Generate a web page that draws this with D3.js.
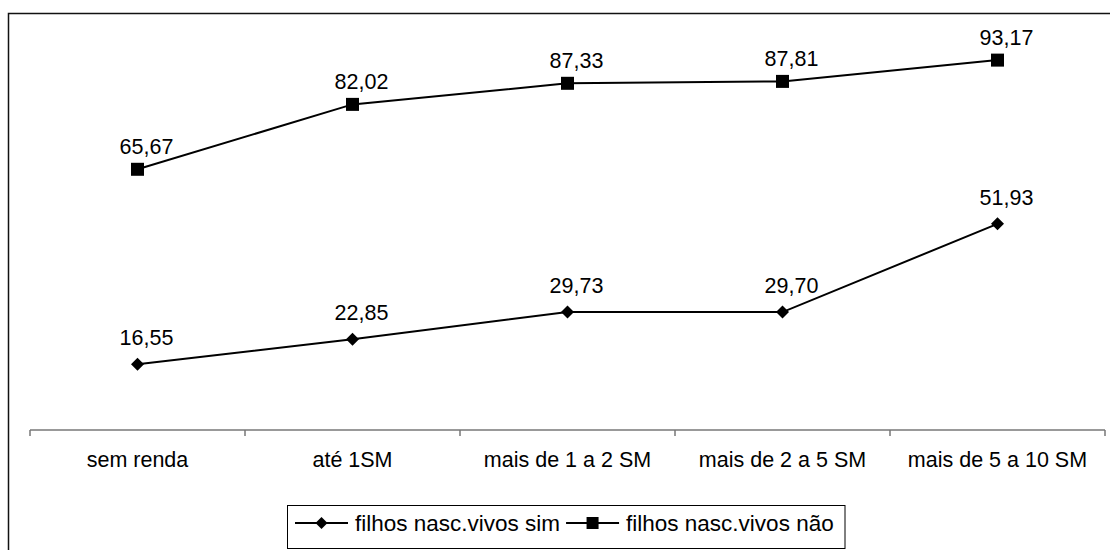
<!DOCTYPE html>
<html>
<head>
<meta charset="utf-8">
<script src="https://cdn.jsdelivr.net/npm/d3@7/dist/d3.min.js"></script>
<style>
  html, body { margin: 0; padding: 0; background: #fff; }
  svg { display: block; }
  text { font-family: "Liberation Sans", Arial, sans-serif; fill: #000; }
</style>
</head>
<body>
<svg id="chart" width="1110" height="550"></svg>
<script>
// Income bands and the share (%) for each group
const categories = ["sem renda", "até 1SM", "mais de 1 a 2 SM", "mais de 2 a 5 SM", "mais de 5 a 10 SM"];
const seriesNames = ["filhos nasc.vivos sim", "filhos nasc.vivos não"];
const valuesSim = [16.55, 22.85, 29.73, 29.70, 51.93];
const valuesNao = [65.67, 82.02, 87.33, 87.81, 93.17];
const markerTypes = ["diamond", "square"];

const fmt = v => v.toFixed(2).replace(".", ",");
const FONT = 21.5;
// gap between a marker and its value label, per marker shape
const labelGap = { diamond: 19, square: 15 };

const svg = d3.select("#chart");

// outer frame (right and bottom edges fall outside the page)
svg.append("rect")
  .attr("x", 8.5).attr("y", 13.5)
  .attr("width", 1120).attr("height", 560)
  .attr("fill", "none").attr("stroke", "#111").attr("stroke-width", 1.5);

const x = d3.scaleBand().domain(categories).range([30, 1105]).paddingInner(0).paddingOuter(0);
const y = d3.scaleLinear().domain([0, 100]).range([430, 33]);
const cx = c => x(c) + x.bandwidth() / 2;

// category axis
const axisG = svg.append("g").attr("transform", `translate(0,${y(0)})`);
axisG.append("line")
  .attr("x1", x.range()[0]).attr("x2", x.range()[1])
  .attr("stroke", "#777").attr("stroke-width", 1.5);
const tickPos = categories.map(c => x(c)).concat([x.range()[1]]);
axisG.selectAll("line.tick").data(tickPos).join("line")
  .attr("class", "tick")
  .attr("x1", d => d).attr("x2", d => d)
  .attr("y1", 0).attr("y2", 6)
  .attr("stroke", "#777").attr("stroke-width", 1.5);
axisG.selectAll("text.cat").data(categories).join("text")
  .attr("class", "cat")
  .attr("text-anchor", "middle")
  .attr("font-size", FONT)
  .attr("x", d => cx(d))
  .attr("y", 37)
  .text(d => d);

function marker(sel, type, size) {
  const h = size / 2;
  if (type === "square") {
    sel.append("rect")
      .attr("x", -h).attr("y", -h).attr("width", size).attr("height", size)
      .attr("fill", "#000");
  } else {
    sel.append("path")
      .attr("d", `M0,${-h}L${h},0L0,${h}L${-h},0Z`)
      .attr("fill", "#000");
  }
}

const series = [valuesSim, valuesNao];
const line = d3.line().x((d, i) => cx(categories[i])).y(d => y(d));

series.forEach((vals, si) => {
  const g = svg.append("g");
  g.append("path")
    .datum(vals)
    .attr("d", line)
    .attr("fill", "none").attr("stroke", "#000").attr("stroke-width", 2);
  vals.forEach((v, i) => {
    const m = g.append("g").attr("transform", `translate(${cx(categories[i])},${y(v)})`);
    marker(m, markerTypes[si], 13);
    g.append("text")
      .attr("text-anchor", "middle")
      .attr("font-size", FONT)
      .attr("x", cx(categories[i]) + 9)
      .attr("y", y(v) - labelGap[markerTypes[si]])
      .text(fmt(v));
  });
});

// legend
const legG = svg.append("g");
const legBox = legG.append("rect")
  .attr("fill", "#fff").attr("stroke", "#000").attr("stroke-width", 1);
const legY = 523;
const legFont = 22.5;
let cursor = 295;
seriesNames.forEach((name, si) => {
  legG.append("line")
    .attr("x1", cursor).attr("x2", cursor + 53)
    .attr("y1", legY).attr("y2", legY)
    .attr("stroke", "#000").attr("stroke-width", 2);
  const m = legG.append("g").attr("transform", `translate(${cursor + 26.5},${legY})`);
  marker(m, markerTypes[si], 12);
  const tx = cursor + 60;
  const t = legG.append("text")
    .attr("font-size", legFont)
    .attr("x", tx)
    .attr("y", legY + 8)
    .text(name);
  const w = t.node().getComputedTextLength();
  cursor = tx + w + 6;
});
legBox.attr("x", 287.5).attr("y", 505.5)
  .attr("width", Math.max(cursor + 2, 845) - 287.5).attr("height", 43);
</script>
</body>
</html>
